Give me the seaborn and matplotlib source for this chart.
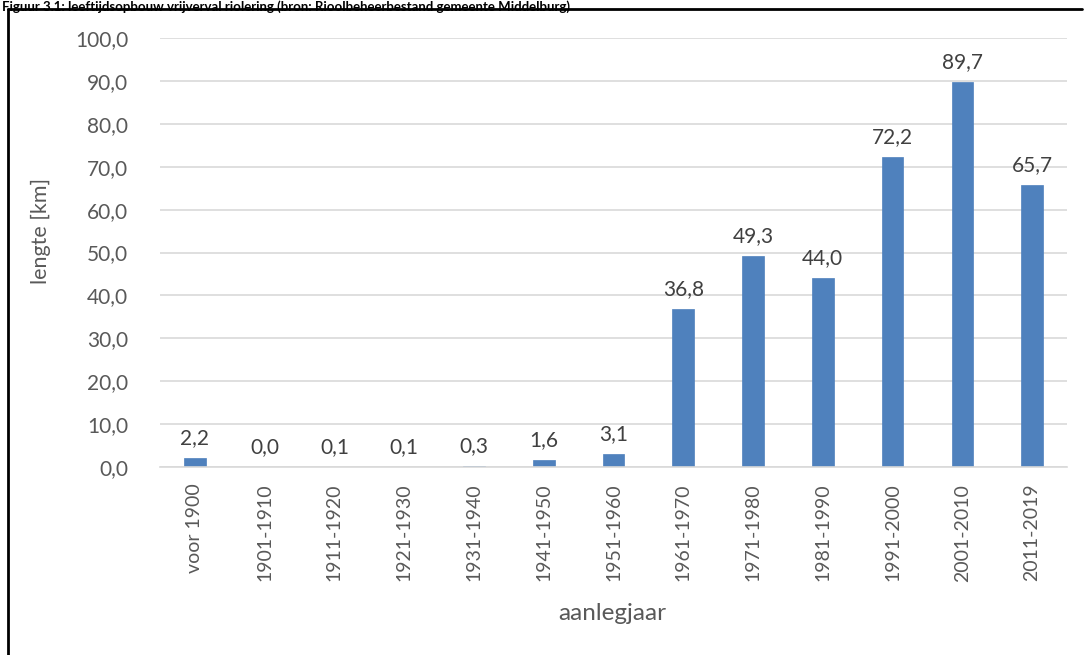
import matplotlib
matplotlib.use("Agg")
import matplotlib.pyplot as plt
import seaborn as sns
import pandas as pd

categories = ["voor 1900", "1901-1910", "1911-1920", "1921-1930", "1931-1940",
              "1941-1950", "1951-1960", "1961-1970", "1971-1980", "1981-1990",
              "1991-2000", "2001-2010", "2011-2019"]
values = [2.2, 0.0, 0.1, 0.1, 0.3, 1.6, 3.1, 36.8, 49.3, 44.0, 72.2, 89.7, 65.7]
yticks = [0, 10, 20, 30, 40, 50, 60, 70, 80, 90, 100]
title = "Figuur 3.1: leeftijdsopbouw vrijverval riolering (bron: Rioolbeheerbestand gemeente Middelburg)"

sns.set_theme(style="white")
plt.rcParams['font.family'] = ['Lato', 'DejaVu Sans']

df = pd.DataFrame({"cat": categories, "val": values})

fig = plt.figure(figsize=(10.86, 6.55), dpi=100)
ax = fig.add_axes([160/1086, 1 - 467/655, (1067-160)/1086, (467-38)/655])

sns.barplot(data=df, x="cat", y="val", color="#4F81BD", width=0.31, ax=ax,
            saturation=1, edgecolor="#4F81BD", linewidth=0.5)

ax.set_ylim(0, 100)
ax.set_xlim(-0.5, len(categories) - 0.5)
ax.set_yticks(yticks)
ax.set_yticklabels([f"{v:.1f}".replace(".", ",") for v in yticks], color="#595959", fontsize=15)
ax.set_xticks(range(len(categories)))
ax.set_xticklabels(categories, rotation=90, color="#595959", fontsize=14)
ax.tick_params(axis="x", length=0, pad=12)
ax.tick_params(axis="y", length=0, pad=23)
ax.yaxis.grid(True, color="#D9D9D9", linewidth=1.2)
ax.set_axisbelow(True)
for s in ["top", "right", "left"]:
    ax.spines[s].set_visible(False)
ax.spines["bottom"].set_color("#D9D9D9")
ax.spines["bottom"].set_linewidth(1.2)

for i, v in enumerate(values):
    ax.annotate(f"{v:.1f}".replace(".", ","), (i, v), xytext=(0, 7), textcoords="offset points",
                ha="center", va="bottom", color="#404040", fontsize=15)

ax.set_ylabel("lengte [km]", color="#595959", fontsize=15.5)
ax.yaxis.set_label_coords(-(160-41)/907, 0.55)
ax.yaxis.label.set_verticalalignment("center")
ax.set_xlabel("aanlegjaar", color="#595959", fontsize=17.5)
ax.xaxis.set_label_coords((612-160)/907, -(613-467)/429)
ax.xaxis.label.set_verticalalignment("center")

# outer frame lines
fig.add_artist(plt.Line2D([8/1086, 8/1086], [0, 1 - 9/655], color="black", linewidth=2, transform=fig.transFigure))
fig.add_artist(plt.Line2D([8/1086, 1082/1086], [1 - 9/655, 1 - 9/655], color="black", linewidth=2, transform=fig.transFigure))

fig.text(2/1086, 1 - 0.5/655, title, fontsize=9.5, fontweight="bold", color="black", ha="left", va="top")

fig.savefig("out.png", dpi=100)
